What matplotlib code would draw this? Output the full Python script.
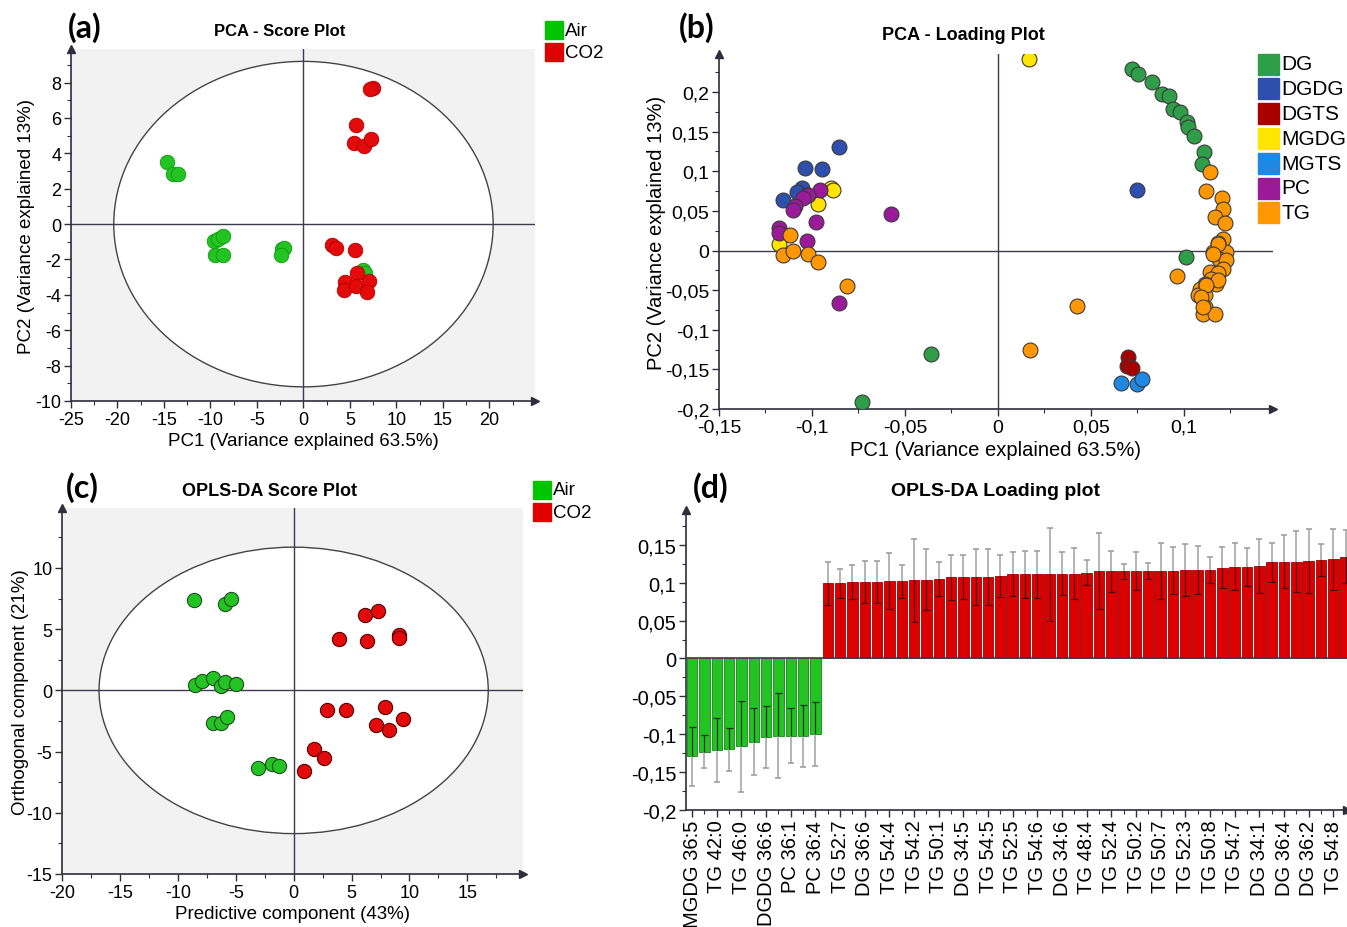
import numpy as np
import matplotlib
matplotlib.use('Agg')
import matplotlib.pyplot as plt
from matplotlib.patches import Ellipse, Rectangle
from matplotlib.ticker import MultipleLocator, AutoMinorLocator, FuncFormatter

plt.rcParams['font.family'] = ['Liberation Sans', 'DejaVu Sans']
plt.rcParams['axes.unicode_minus'] = False

# (a) PCA score plot
pca_air_x = [-14.65, -14.0, -13.5, -9.58, -9.24, -8.69, -9.54, -8.6, -2.3, -2.1, -2.38, 6.39, 6.6]
pca_air_y = [3.52, 2.82, 2.82, -0.95, -0.83, -0.70, -1.74, -1.74, -1.42, -1.36, -1.74, -2.59, -2.78]
pca_co2_x = [7.45, 7.16, 5.62, 5.45, 6.52, 7.24, 3.07, 3.53, 5.54, 5.75, 4.47, 4.34, 5.62, 7.03, 6.86]
pca_co2_y = [7.71, 7.62, 5.58, 4.59, 4.40, 4.82, -1.17, -1.36, -1.46, -2.78, -3.25, -3.72, -3.48, -3.21, -3.86]

# (b) PCA loading plot, by lipid class
load_x = {
    'DG': [0.0724, 0.0755, 0.083, 0.0883, 0.0919, 0.0943, 0.0978, 0.1018, 0.1023, 0.1057, 0.1108, 0.1097,
           0.1014, -0.036, -0.0732],
    'DGDG': [-0.0853, -0.1038, -0.0948, -0.1055, -0.1082, -0.1154, -0.1025, 0.0746],
    'DGTS': [0.0702, 0.0695, 0.072],
    'MGDG': [0.0166, -0.09, -0.0889, -0.0969, -0.1176],
    'MGTS': [0.066, 0.075, 0.0775],
    'PC': [-0.0957, -0.102, -0.1047, -0.1091, -0.11, -0.0978, -0.0577, -0.1176, -0.1176, -0.1025, -0.0853],
    'TG': [-0.1118, -0.1158, -0.11, -0.102, -0.0966, -0.081, 0.0428, 0.0171, 0.0966,
           0.114, 0.1122, 0.1203, 0.1211, 0.1167, 0.122, 0.1211, 0.1185, 0.1158, 0.1226,
           0.119, 0.1226, 0.1211, 0.114, 0.1185, 0.1149, 0.1176, 0.1113, 0.1086, 0.1118,
           0.1077, 0.1113, 0.1113, 0.1104, 0.1167, 0.1185, 0.1158, 0.1185, 0.1122, 0.1095, 0.1104],
}
load_y = {
    'DG': [0.229, 0.2226, 0.213, 0.197, 0.1953, 0.179, 0.175, 0.1625, 0.156, 0.1448, 0.1246, 0.1098,
           -0.008, -0.131, -0.191],
    'DGDG': [0.131, 0.1044, 0.1035, 0.0783, 0.0741, 0.0636, 0.0699, 0.0761],
    'DGTS': [-0.135, -0.146, -0.148],
    'MGDG': [0.242, 0.0791, 0.0762, 0.0581, 0.0076],
    'MGTS': [-0.167, -0.168, -0.162],
    'PC': [0.0762, 0.0699, 0.0657, 0.0564, 0.0509, 0.0362, 0.0467, 0.0287, 0.0215, 0.0118, -0.0657],
    'TG': [0.0193, -0.0059, -0.0009, -0.0038, -0.0143, -0.0446, -0.0695, -0.125, -0.032,
           0.0985, 0.0749, 0.0657, 0.053, 0.0425, 0.0353, 0.0143, 0.0101, -0.0025, -0.0017,
           -0.0101, -0.0122, -0.0236, -0.027, -0.029, -0.0354, -0.0417, -0.0417, -0.048, -0.0438,
           -0.0564, -0.0564, -0.0711, -0.0795, -0.0795, 0.0088, -0.0038, -0.0375, -0.0438, -0.0585, -0.0711],
}
class_names = ['DG', 'DGDG', 'DGTS', 'MGDG', 'MGTS', 'PC', 'TG']
class_colors = ['#2e9e48', '#2f4fae', '#a80000', '#ffe400', '#1e88e5', '#9a1a9a', '#ff9800']

# (c) OPLS-DA score plot
opls_air_x = [-8.61, -5.97, -5.39, -8.51, -7.89, -7.0, -6.25, -5.9, -4.98, -6.97, -6.31, -5.77, -3.09, -1.89, -1.27]
opls_air_y = [7.40, 7.04, 7.45, 0.44, 0.74, 1.01, 0.38, 0.66, 0.52, -2.63, -2.63, -2.19, -6.38, -6.05, -6.19]
opls_co2_x = [6.14, 7.28, 3.95, 6.35, 9.13, 9.13, 2.85, 4.53, 7.86, 7.14, 8.2, 9.44, 1.72, 2.61, 0.86]
opls_co2_y = [6.19, 6.49, 4.16, 4.03, 4.52, 4.30, -1.59, -1.59, -1.32, -2.85, -3.23, -2.36, -4.82, -5.56, -6.6]

# (d) OPLS-DA loadings with confidence intervals
air_load = [-0.129, -0.123, -0.121, -0.120, -0.116, -0.110, -0.104, -0.102, -0.102, -0.102, -0.100]
air_err = [0.039, 0.022, 0.042, 0.028, 0.060, 0.044, 0.041, 0.056, 0.036, 0.041, 0.042]
co2_load = [0.099, 0.099, 0.101, 0.101, 0.101, 0.102, 0.102, 0.103, 0.104, 0.105,
            0.107, 0.107, 0.107, 0.108, 0.109, 0.111, 0.111, 0.111, 0.111, 0.112,
            0.112, 0.113, 0.115, 0.115, 0.115, 0.115, 0.116, 0.116, 0.116, 0.117,
            0.117, 0.117, 0.120, 0.121, 0.121, 0.122, 0.127, 0.128, 0.128, 0.129,
            0.130, 0.131, 0.134]
co2_err = [0.028, 0.019, 0.023, 0.028, 0.028, 0.037, 0.022, 0.055, 0.040, 0.023,
           0.030, 0.029, 0.037, 0.037, 0.028, 0.029, 0.031, 0.031, 0.061, 0.028,
           0.034, 0.0165, 0.050, 0.027, 0.0095, 0.025, 0.0105, 0.037, 0.031, 0.034,
           0.032, 0.017, 0.027, 0.031, 0.0255, 0.036, 0.0255, 0.0345, 0.040, 0.042,
           0.0205, 0.040, 0.035]
bar_labels = ['MGDG 36:5', 'TG 42:0', 'TG 46:0', 'DGDG 36:6', 'PC 36:1', 'PC 36:4', 'TG 52:7',
              'DG 36:6', 'TG 54:4', 'TG 54:2', 'TG 50:1', 'DG 34:5', 'TG 54:5', 'TG 52:5',
              'TG 54:6', 'DG 34:6', 'TG 48:4', 'TG 52:4', 'TG 50:2', 'TG 50:7', 'TG 52:3',
              'TG 50:8', 'TG 54:7', 'DG 34:1', 'DG 36:4', 'DG 36:2', 'TG 54:8']

W, H = 1347, 928
AIR_C, CO2_C = '#22c322', '#e20a0a'
LEG_AIR, LEG_CO2 = '#00c400', '#e00000'
SPINE = '#2e2e3c'
BG = '#f2f2f2'


def box(l, t, r, b):
    return [l / W, 1 - b / H, (r - l) / W, (b - t) / H]


def comma(v, pos):
    if abs(v) < 1e-9:
        return '0'
    return f'{v:g}'.replace('.', ',')


def style(ax, fs):
    for s in ['top', 'right']:
        ax.spines[s].set_visible(False)
    for s in ['left', 'bottom']:
        ax.spines[s].set_color(SPINE)
        ax.spines[s].set_linewidth(1.2)
    ax.tick_params(which='major', direction='out', length=5, width=1, color=SPINE, labelsize=fs, pad=2)
    ax.tick_params(which='minor', direction='out', length=3, width=0.8, color=SPINE)
    ax.xaxis.set_minor_locator(AutoMinorLocator(2))
    ax.yaxis.set_minor_locator(AutoMinorLocator(2))
    ax.plot([0], [1], marker='^', color=SPINE, ms=6, transform=ax.transAxes, clip_on=False)
    ax.plot([1], [0], marker='>', color=SPINE, ms=6, transform=ax.transAxes, clip_on=False)


def legend(fig, x, y, labels, colors, sq, dy, fs):
    for i, (lab, c) in enumerate(zip(labels, colors)):
        cy = y + i * dy
        fig.patches.append(Rectangle((x / W, 1 - (cy + sq / 2) / H), sq / W, sq / H,
                                     transform=fig.transFigure, color=c))
        fig.text((x + sq + 2) / W, 1 - cy / H, lab, fontsize=fs, va='center', ha='left')


def title(fig, x, y, s, fs):
    fig.text(x / W, 1 - y / H, s, fontsize=fs, weight='bold', ha='center', va='center')


def panel(fig, x, y, s):
    fig.text(x / W, 1 - y / H, s, fontsize=23, weight='bold', family=['Lato', 'DejaVu Sans'],
             ha='center', va='center')


fig = plt.figure(figsize=(W / 100, H / 100), dpi=100)

# ---------- (a)
ax = fig.add_axes(box(71, 50, 535, 402))
ax.set_facecolor(BG)
ax.add_patch(Ellipse((0, 0), 2 * 20.4, 2 * 9.2, facecolor='white', edgecolor='#444444', lw=1, zorder=0.5))
ax.axhline(0, color='#3c3c4c', lw=1, zorder=1)
ax.axvline(0, color='#3c3c4c', lw=1, zorder=1)
ax.scatter(pca_air_x, pca_air_y, s=110, c=AIR_C, edgecolors='#119911', linewidths=0.6, zorder=3)
ax.scatter(pca_co2_x, pca_co2_y, s=110, c=CO2_C, edgecolors='#b00000', linewidths=0.6, zorder=3)
ax.set_xlim(-25, 24.9)
ax.set_ylim(-10, 9.9)
ax.xaxis.set_major_locator(MultipleLocator(5))
ax.yaxis.set_major_locator(MultipleLocator(2))
style(ax, 13)
ax.set_xlabel('PC1 (Variance explained 63.5%)', fontsize=13.5, labelpad=3)
ax.set_ylabel('PC2 (Variance explained 13%)', fontsize=13.5, labelpad=0)
title(fig, 280, 32, 'PCA - Score Plot', 12)
panel(fig, 85, 28, '(a)')
legend(fig, 545, 31, ['Air', 'CO2'], [LEG_AIR, LEG_CO2], 18, 22, 13.5)

# ---------- (b)
ax = fig.add_axes(box(719, 55, 1273, 410))
ax.axhline(0, color='#3c3c4c', lw=1, zorder=1)
ax.axvline(0, color='#3c3c4c', lw=1, zorder=1)
for name, col in zip(class_names, class_colors):
    ax.scatter(load_x[name], load_y[name], s=115, c=col, edgecolors='#3a3a3a', linewidths=0.8, zorder=3)
ax.set_xlim(-0.15, 0.148)
ax.set_ylim(-0.2, 0.248)
ax.xaxis.set_major_locator(MultipleLocator(0.05))
ax.yaxis.set_major_locator(MultipleLocator(0.05))
ax.xaxis.set_major_formatter(FuncFormatter(comma))
ax.yaxis.set_major_formatter(FuncFormatter(comma))
style(ax, 14)
ax.set_xlabel('PC1 (Variance explained 63.5%)', fontsize=14.5, labelpad=3)
ax.set_ylabel('PC2 (Variance explained 13%)', fontsize=14.5, labelpad=-1)
title(fig, 963, 36, 'PCA - Loading Plot', 13)
panel(fig, 697, 28, '(b)')
legend(fig, 1258, 65, class_names, class_colors, 21, 24.8, 15)

# ---------- (c)
ax = fig.add_axes(box(62, 509, 523, 875))
ax.set_facecolor(BG)
ax.add_patch(Ellipse((0, 0), 2 * 16.8, 2 * 11.7, facecolor='white', edgecolor='#444444', lw=1, zorder=0.5))
ax.axhline(0, color='#3c3c4c', lw=1, zorder=1)
ax.axvline(0, color='#3c3c4c', lw=1, zorder=1)
ax.scatter(opls_air_x, opls_air_y, s=105, c=AIR_C, edgecolors='#1f4f1f', linewidths=0.8, zorder=3)
ax.scatter(opls_co2_x, opls_co2_y, s=105, c=CO2_C, edgecolors='#5a0000', linewidths=0.8, zorder=3)
ax.set_xlim(-20, 19.8)
ax.set_ylim(-15, 14.9)
ax.xaxis.set_major_locator(MultipleLocator(5))
ax.yaxis.set_major_locator(MultipleLocator(5))
style(ax, 13)
ax.set_xlabel('Predictive component (43%)', fontsize=13.5, labelpad=3)
ax.set_ylabel('Orthogonal component (21%)', fontsize=13.5, labelpad=-2)
title(fig, 270, 492, 'OPLS-DA Score Plot', 13)
panel(fig, 82, 488, '(c)')
legend(fig, 533, 491, ['Air', 'CO2'], [LEG_AIR, LEG_CO2], 18, 22, 13.5)

# ---------- (d)
ax = fig.add_axes(box(686, 511, 1347, 811))
vals = np.array(air_load + co2_load)
errs = np.array(air_err + co2_err)
xs = np.arange(len(vals))
n_air = len(air_load)
cols = [AIR_C] * n_air + ['#dd0000'] * len(co2_load)
edges = ['#0e8a0e'] * n_air + ['#a00000'] * len(co2_load)
ax.bar(xs, vals, width=0.86, color=cols, edgecolor=edges, linewidth=0.6, zorder=2)
ax.axhline(0, color='#3c3c4c', lw=1.2, zorder=3)
# error bars: part inside the bar dark, part outside grey
inner_lo = np.where(vals > 0, vals - errs, vals)
inner_hi = np.where(vals > 0, vals, vals + errs)
outer_lo = np.where(vals > 0, vals, vals - errs)
outer_hi = np.where(vals > 0, vals + errs, vals)
dark = np.where(vals > 0, '#4a0000', '#143214')
ax.vlines(xs, outer_lo, outer_hi, color='#a8a8a8', lw=1.2, zorder=4)
ax.vlines(xs, inner_lo, inner_hi, color=dark, lw=0.9, zorder=4)
cap_out = np.where(vals > 0, vals + errs, vals - errs)
cap_in = np.where(vals > 0, vals - errs, vals + errs)
ax.scatter(xs, cap_out, marker='_', s=25, c='#a0a0a0', linewidths=1.2, zorder=4)
ax.scatter(xs, cap_in, marker='_', s=25, c=dark, linewidths=0.9, zorder=4)
ax.set_xlim(-0.5, 53.1)
ax.set_ylim(-0.2, 0.196)
ax.yaxis.set_major_locator(MultipleLocator(0.05))
ax.yaxis.set_major_formatter(FuncFormatter(comma))
style(ax, 14.5)
ax.set_xticks(xs[::2])
ax.set_xticklabels(bar_labels, rotation=90, fontsize=14.5)
ax.xaxis.set_minor_locator(MultipleLocator(1))
title(fig, 995, 492, 'OPLS-DA Loading plot', 14)
panel(fig, 711, 488, '(d)')

fig.savefig('out.png', dpi=100)
